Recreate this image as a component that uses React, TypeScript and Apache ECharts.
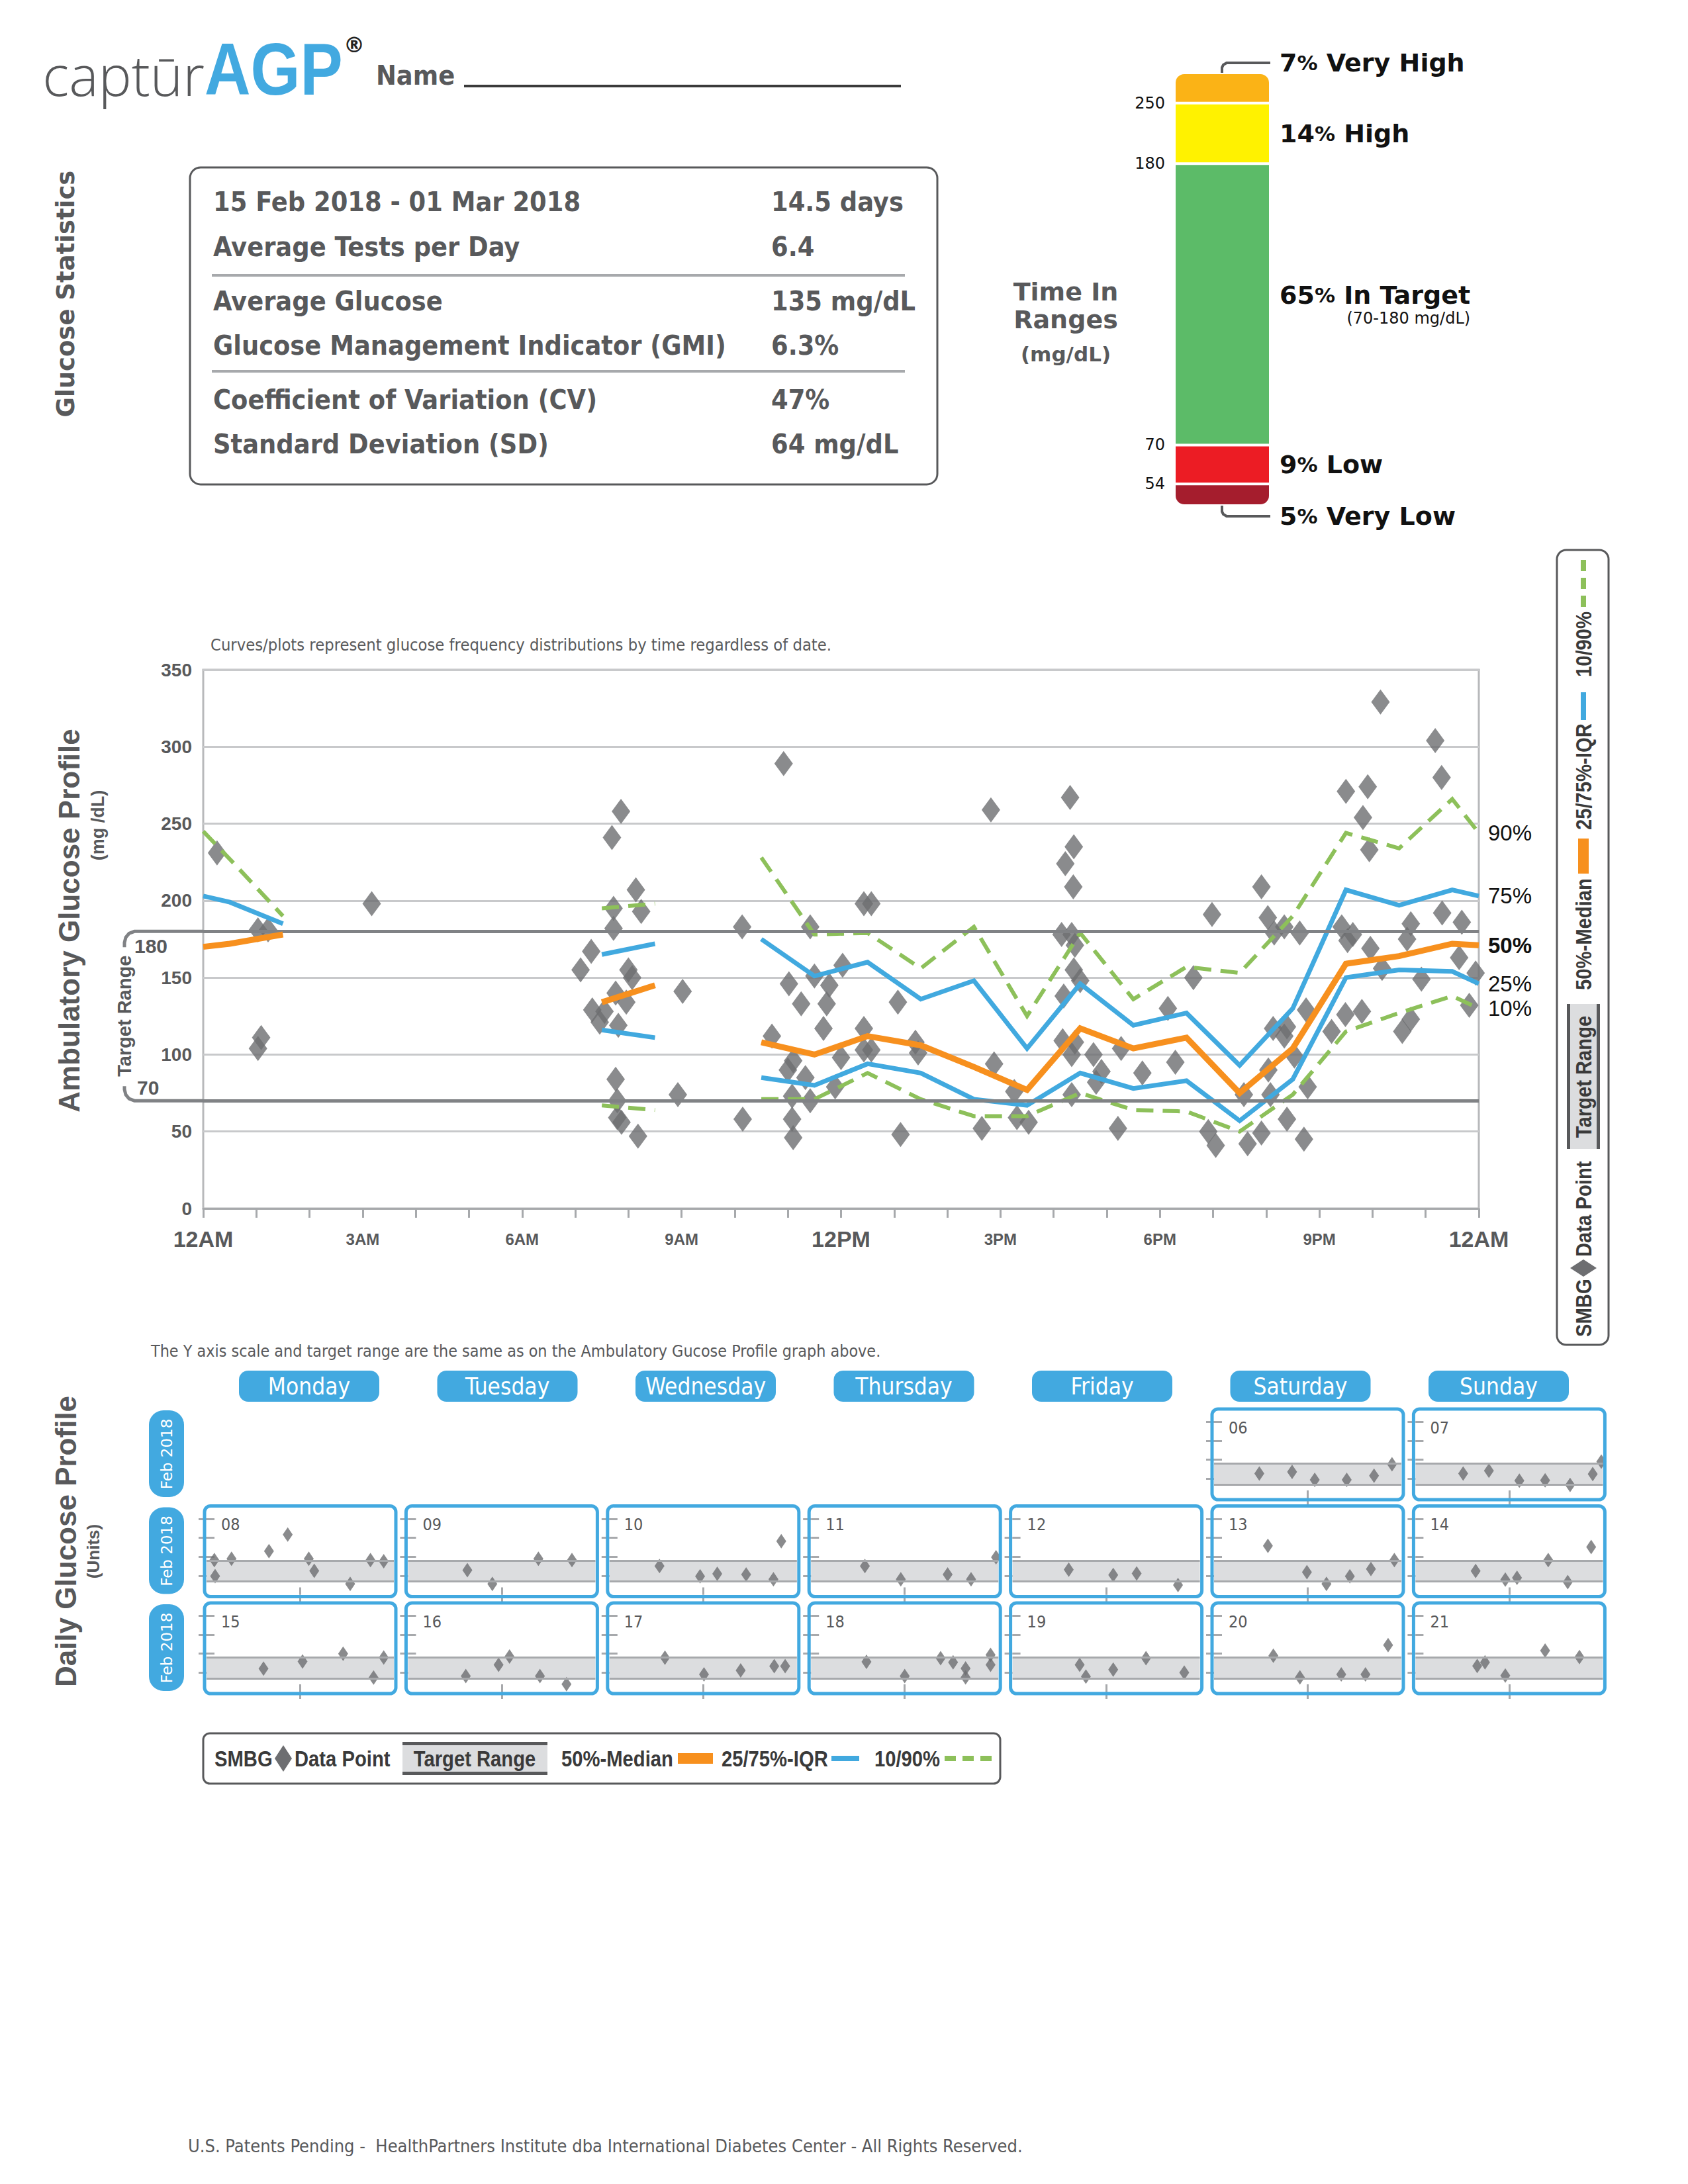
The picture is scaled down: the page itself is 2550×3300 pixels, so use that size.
import { useEffect, useRef } from 'react';
import * as echarts from 'echarts';

// ---------------- DATA ----------------
const statLabels = [
  '15 Feb 2018 - 01 Mar 2018',
  'Average Tests per Day',
  'Average Glucose',
  'Glucose Management Indicator (GMI)',
  'Coefficient of Variation (CV)',
  'Standard Deviation (SD)',
];
const statValues = ['14.5 days', '6.4', '135 mg/dL', '6.3%', '47%', '64 mg/dL'];

const tirNames = ['Very Low', 'Low', 'In Target', 'High', 'Very High'];
const tirPercents = [5, 9, 65, 14, 7];
const tirThresholds = [54, 70, 180, 250];
const tirTargetNote = '(70-180 mg/dL)';

const agpHours = [0, 0.5, 1.5, 4, 7.5, 8.5, 9.5, 10.5, 11.5, 12.5, 13.5, 14.5, 15.5, 16.5, 17.5, 18.5, 19.5, 20.5, 21.5, 22.5, 23.5, 24];
const p10 = [null, null, null, null, 67, 64, null, 71, 71, 88, 71, 60, 60, 75, 64, 63, 50, 74, 115, 127, 138, 130];
const p25 = [null, null, null, null, 116, 111, null, 85, 80, 94, 88, 71, 67, 88, 78, 83, 57, 84, 150, 155, 154, 146];
const p50 = [170, 172, 178, null, 134, 145, null, 108, 100, 112, 106, 92, 77, 117, 104, 111, 75, 104, 159, 164, 172, 171];
const p75 = [203, 199, 185, null, 165, 172, null, 175, 151, 160, 136, 148, 104, 146, 119, 127, 93, 130, 207, 197, 207, 203];
const p90 = [245, 227, 190, null, 195, 198, null, 228, 178, 179, 156, 183, 125, 179, 136, 157, 153, 190, 244, 234, 266, 244];

const smbgHours = [
  0.26, 1.03, 1.03, 1.09, 1.22, 3.17, 7.1, 7.3, 7.32, 7.46, 7.55, 7.69, 7.72, 7.72, 7.76, 7.76, 7.79, 7.79, 7.81, 7.86,
  7.87, 7.96, 8.0, 8.07, 8.14, 8.18, 8.24, 8.93, 9.02, 10.14, 10.15, 10.7, 10.92, 11.0, 11.02, 11.08, 11.08, 11.1, 11.1,
  11.25, 11.33, 11.42, 11.42, 11.5, 11.67, 11.73, 11.78, 11.89, 12.0, 12.03, 12.43, 12.43, 12.43, 12.57, 12.57, 13.07,
  13.12, 13.4, 13.45, 14.65, 14.82, 14.88, 15.26, 15.31, 15.53, 16.15, 16.17, 16.19, 16.22, 16.31, 16.34, 16.34, 16.34,
  16.37, 16.38, 16.38, 16.4, 16.4, 16.5, 16.75, 16.8, 16.9, 17.21, 17.27, 17.67, 18.15, 18.29, 18.63, 18.91, 18.98,
  19.05, 19.58, 19.65, 19.91, 19.91, 20.03, 20.04, 20.08, 20.13, 20.15, 20.34, 20.34, 20.39, 20.39, 20.53, 20.63, 20.71,
  20.75, 20.78, 21.23, 21.42, 21.49, 21.5, 21.53, 21.63, 21.8, 21.82, 21.91, 21.94, 21.96, 22.15, 22.18, 22.56, 22.65,
  22.72, 22.72, 22.92, 23.18, 23.3, 23.31, 23.63, 23.68, 23.82, 23.94,
];
const smbgValues = [
  231, 181, 104, 111, 181, 198, 155, 167, 129, 121, 128, 241, 195, 182, 140, 84, 70, 59, 119, 258,
  56, 134, 155, 150, 207, 47, 193, 74, 141, 183, 58, 112, 289, 90, 146, 73, 58, 96, 46,
  133, 85, 183, 70, 151, 117, 133, 145, 79, 98, 158, 198, 117, 103, 198, 103, 134,
  48, 108, 101, 52, 259, 94, 76, 59, 56, 178, 109, 138, 224, 267, 178, 100, 74,
  209, 235, 155, 171, 108, 148, 100, 82, 89, 52, 104, 88, 130, 95, 150, 50, 191,
  41, 74, 42, 209, 49, 189, 90, 74, 117, 179, 183, 112, 118, 58, 99, 179, 45,
  129, 79, 115, 183, 126, 271, 174, 178, 128, 254, 274, 233, 169, 329, 156, 115, 175,
  185, 123, 149, 304, 280, 192, 163, 186, 132, 153,
];

const hourLabels: Record<number, string> = { 0: '12AM', 3: '3AM', 6: '6AM', 9: '9AM', 12: '12PM', 15: '3PM', 18: '6PM', 21: '9PM', 24: '12AM' };
const percentileNames = ['10%', '25%', '50%', '75%', '90%'];
const targetRange = [70, 180];

const weekdays = ['Monday', 'Tuesday', 'Wednesday', 'Thursday', 'Friday', 'Saturday', 'Sunday'];
const monthLabel = 'Feb 2018';
const day06 = [[5.8, 127], [10.0, 136], [12.9, 94], [17.0, 94], [20.5, 116], [22.8, 176]];
const day07 = [[6.1, 127], [9.4, 142], [13.3, 90], [16.6, 92], [19.8, 67], [22.7, 125], [23.8, 190]];
const day08 = [[1.0, 182], [1.1, 98], [3.2, 189], [8.0, 229], [10.4, 317], [13.1, 189], [13.8, 126], [18.4, 57], [21.0, 182], [22.7, 176]];
const day09 = [[7.6, 129], [10.8, 57], [16.7, 189], [21.0, 182]];
const day10 = [[6.4, 151], [11.6, 97], [13.8, 110], [17.5, 106], [21.0, 81], [22.0, 282]];
const day11 = [[6.9, 151], [11.5, 81], [17.5, 106], [20.5, 81], [23.7, 197]];
const day12 = [[7.2, 132], [12.9, 104], [15.9, 112], [21.2, 51]];
const day13 = [[6.9, 257], [11.9, 119], [14.4, 57], [17.4, 97], [20.1, 135], [23.1, 182]];
const day14 = [[7.7, 125], [11.5, 79], [13.0, 89], [17.0, 182], [19.5, 66], [22.5, 251]];
const day15 = [[7.3, 121], [12.3, 159], [17.5, 200], [21.4, 74], [22.7, 180]];
const day16 = [[7.4, 82], [11.6, 141], [13.0, 185], [16.9, 82], [20.3, 39]];
const day17 = [[7.1, 179], [12.1, 91], [16.8, 112], [21.1, 134], [22.5, 134]];
const day18 = [[7.1, 157], [12.0, 82], [16.6, 176], [18.2, 154], [19.8, 122], [19.8, 75], [23.0, 194], [23.0, 141]];
const day19 = [[8.6, 141], [9.4, 79], [12.9, 116], [17.1, 176], [22.0, 100]];
const day20 = [[7.6, 189], [11.0, 75], [16.3, 91], [19.4, 91], [22.3, 245]];
const day21 = [[7.9, 135], [8.9, 154], [11.5, 85], [16.6, 216], [21.0, 182]];

const dailyCells = [
  { date: '06', row: 0, col: 5, points: day06 },
  { date: '07', row: 0, col: 6, points: day07 },
  { date: '08', row: 1, col: 0, points: day08 },
  { date: '09', row: 1, col: 1, points: day09 },
  { date: '10', row: 1, col: 2, points: day10 },
  { date: '11', row: 1, col: 3, points: day11 },
  { date: '12', row: 1, col: 4, points: day12 },
  { date: '13', row: 1, col: 5, points: day13 },
  { date: '14', row: 1, col: 6, points: day14 },
  { date: '15', row: 2, col: 0, points: day15 },
  { date: '16', row: 2, col: 1, points: day16 },
  { date: '17', row: 2, col: 2, points: day17 },
  { date: '18', row: 2, col: 3, points: day18 },
  { date: '19', row: 2, col: 4, points: day19 },
  { date: '20', row: 2, col: 5, points: day20 },
  { date: '21', row: 2, col: 6, points: day21 },
];

// ---------------- STYLE ----------------
const F_DJ = "'DejaVu Sans', sans-serif";
const F_DJC = "'DejaVu Sans Condensed', 'DejaVu Sans', sans-serif";
const F_LIB = "'Liberation Sans', Arial, sans-serif";
const C = {
  gray: '#58595b', blue: '#42a9e0', orange: '#f7901e', green: '#8dc05a', lineBlue: '#41a9df',
  dia: '#6d6e71', band: '#dcdddf', bandLine: '#a7a9ac', target: '#808285',
};
const tirColors = ['#a51d2d', '#ec1c24', '#5cbb68', '#fff200', '#fbb316'];

function T(text: string, x: number, y: number, o: any = {}) {
  const align = o.align || 'left';
  const va = o.va || 'middle';
  return {
    type: 'text', x, y, rotation: o.rot || 0, scaleX: o.sx || 1, z: o.z ?? 5, silent: true,
    style: {
      text, fontSize: o.size || 24, fontFamily: o.font || F_DJ, fontWeight: o.weight || 'normal',
      fill: o.color || C.gray, align, verticalAlign: va, textAlign: align, textVerticalAlign: va,
      rich: o.rich,
    },
  };
}

function legendEls() {
  const f = { size: 34, font: F_LIB, weight: 'bold', color: '#3a3a3a', sx: 0.86 };
  return [
    T('SMBG', 0, 0, f),
    { type: 'polygon', silent: true, shape: { points: [[104, -20], [117, 0], [104, 20], [91, 0]] }, style: { fill: C.dia } },
    T('Data Point', 121, 0, f),
    { type: 'rect', silent: true, shape: { x: 284, y: -25, width: 219, height: 50 }, style: { fill: C.band } },
    { type: 'rect', silent: true, shape: { x: 284, y: -25, width: 219, height: 5 }, style: { fill: C.gray } },
    { type: 'rect', silent: true, shape: { x: 284, y: 20, width: 219, height: 5 }, style: { fill: C.gray } },
    T('Target Range', 393, 0, { ...f, align: 'center' }),
    T('50%-Median', 524, 0, f),
    { type: 'rect', silent: true, shape: { x: 700, y: -8, width: 53, height: 16 }, style: { fill: C.orange } },
    T('25/75%-IQR', 766, 0, f),
    { type: 'rect', silent: true, shape: { x: 932, y: -4, width: 42, height: 8 }, style: { fill: C.lineBlue } },
    T('10/90%', 997, 0, f),
    ...[1103, 1130, 1157].map((x) => ({ type: 'rect', silent: true, shape: { x, y: -4, width: 17, height: 8 }, style: { fill: C.green } })),
  ];
}

// layout constants
const CELL_X0 = 309, CELL_STEP_X = 304.4, CELL_W = 289;
const CELL_Y0 = 2129, CELL_STEP_Y = 146.5, CELL_H = 137;
const HEAD_X0 = 467, HEAD_STEP = 299.5;

function buildOption() {
  const grids: any[] = [];
  const xAxes: any[] = [];
  const yAxes: any[] = [];
  const series: any[] = [];

  // ---- AGP ----
  grids.push({ left: 307, top: 1012, width: 1927, height: 814, show: true, borderColor: '#b8b9bb', borderWidth: 3 });
  const lblBase = { fontWeight: 'bold', fontFamily: F_LIB, color: C.gray };
  xAxes.push({
    gridIndex: 0, type: 'value', min: 0, max: 24, interval: 1,
    axisLine: { show: true, lineStyle: { color: '#a7a9ac', width: 3 } },
    axisTick: { show: true, length: 14, lineStyle: { color: '#a7a9ac', width: 3 } },
    splitLine: { show: false },
    axisLabel: {
      margin: 26,
      formatter: (v: number) => {
        const l = hourLabels[v];
        if (!l) return '';
        return (v % 12 === 0 ? '{big|' : '{sm|') + l + '}';
      },
      rich: { big: { ...lblBase, fontSize: 34, lineHeight: 40 }, sm: { ...lblBase, fontSize: 24, lineHeight: 40 } },
    },
  });
  yAxes.push({
    gridIndex: 0, type: 'value', min: 0, max: 350, interval: 50,
    axisLine: { show: false }, axisTick: { show: false },
    splitLine: { show: true, lineStyle: { color: '#c8c9cb', width: 3 } },
    axisLabel: { ...lblBase, fontSize: 28, margin: 17 },
  });
  series.push({
    type: 'scatter', xAxisIndex: 0, yAxisIndex: 0, silent: true, z: 2,
    data: smbgHours.map((h, i) => [h, smbgValues[i]]),
    symbol: 'diamond', symbolSize: [28, 38], itemStyle: { color: C.dia },
  });
  series.push({
    type: 'line', xAxisIndex: 0, yAxisIndex: 0, data: [], z: 3, silent: true,
    markLine: {
      silent: true, symbol: 'none', label: { show: false },
      lineStyle: { color: C.target, width: 5, type: 'solid' },
      data: targetRange.map((v) => ({ yAxis: v })),
    },
  });
  const pSets = [p10, p25, p50, p75, p90];
  const pStyle = [
    { color: C.green, width: 6, type: [26, 14] },
    { color: C.lineBlue, width: 7, type: 'solid' },
    { color: C.orange, width: 9, type: 'solid' },
    { color: C.lineBlue, width: 7, type: 'solid' },
    { color: C.green, width: 6, type: [26, 14] },
  ];
  pSets.forEach((arr, k) => {
    series.push({
      type: 'line', xAxisIndex: 0, yAxisIndex: 0, silent: true, z: 4 + (k === 2 ? 1 : 0),
      data: agpHours.map((h, i) => [h, arr[i]]),
      symbol: 'none', connectNulls: false,
      lineStyle: { ...pStyle[k], cap: 'butt', join: 'miter' },
      itemStyle: { color: pStyle[k].color },
      endLabel: {
        show: true, formatter: percentileNames[k], distance: 14,
        fontSize: 33, fontFamily: F_LIB, color: '#111', fontWeight: k === 2 ? 'bold' : 'normal',
      },
    });
  });

  // ---- Time in ranges bar ----
  const cum: number[] = [];
  tirPercents.reduce((s, v, i) => { const n = s + v; if (i < tirPercents.length - 1) cum.push(n); return n; }, 0);
  grids.push({ left: 1774, top: 110, width: 145, height: 654 });
  xAxes.push({ gridIndex: 1, type: 'category', data: ['TIR'], show: false });
  yAxes.push({
    gridIndex: 1, type: 'value', min: 0, max: 100,
    axisLine: { show: false }, axisTick: { show: false }, splitLine: { show: false },
    axisLabel: {
      show: true, customValues: cum, margin: 14, fontSize: 24, fontFamily: F_DJ, color: '#111',
      formatter: (v: number) => { const i = cum.indexOf(v); return i >= 0 ? String(tirThresholds[i]) : ''; },
    },
  });
  const richTir = {
    n: { fontSize: 38, fontWeight: 'bold', fontFamily: F_DJ, color: '#111' },
    p: { fontSize: 31, fontWeight: 'bold', fontFamily: F_DJ, color: '#111' },
    s: { fontSize: 24, fontFamily: F_DJ, color: '#111', align: 'right', padding: [4, 0, 0, 0] },
  };
  tirPercents.forEach((pct, i) => {
    const last = i === tirPercents.length - 1;
    const first = i === 0;
    let fmt = `{n|${pct}}{p|%}{n| ${tirNames[i]}}`;
    if (tirNames[i] === 'In Target') fmt += `\n{s|${tirTargetNote}}`;
    series.push({
      type: 'bar', xAxisIndex: 1, yAxisIndex: 1, stack: 'tir', barWidth: '100%', silent: true,
      data: [pct],
      itemStyle: {
        color: tirColors[i], borderColor: '#ffffff', borderWidth: 2,
        borderRadius: last ? [14, 14, 0, 0] : first ? [0, 0, 14, 14] : 0,
      },
      label: {
        show: true, position: 'right', distance: 14,
        offset: last ? [0, -38] : first ? [0, 32] : [0, 0],
        formatter: fmt, rich: richTir,
      },
    });
  });

  // ---- Daily cells ----
  dailyCells.forEach((c, k) => {
    const g = 2 + k;
    const cx = CELL_X0 + c.col * CELL_STEP_X;
    const cy = CELL_Y0 + c.row * CELL_STEP_Y;
    grids.push({ left: cx + 3, top: cy + 5, width: CELL_W - 6, height: 129 });
    const tick = { show: true, inside: true, lineStyle: { color: C.bandLine, width: 3 } };
    const xi = xAxes.length;
    ['bottom', 'top'].forEach((pos) => {
      xAxes.push({
        gridIndex: g, type: 'value', min: 0, max: 24, interval: 12, position: pos,
        axisLine: { show: false }, axisLabel: { show: false }, splitLine: { show: false },
        axisTick: { ...tick, length: 11, customValues: [12] },
      });
    });
    const yi = yAxes.length;
    ['left', 'right'].forEach((pos) => {
      yAxes.push({
        gridIndex: g, type: 'value', min: 0, max: 450, interval: 100, position: pos,
        axisLine: { show: false }, axisLabel: { show: false }, splitLine: { show: false },
        axisTick: { ...tick, length: 12, customValues: [100, 200, 300, 400] },
      });
    });
    series.push({
      type: 'line', xAxisIndex: xi, yAxisIndex: yi, data: [], z: 1, silent: true,
      markArea: { silent: true, itemStyle: { color: C.band }, data: [[{ yAxis: targetRange[0] }, { yAxis: targetRange[1] }]] },
      markLine: {
        silent: true, symbol: 'none', label: { show: false },
        lineStyle: { color: C.bandLine, width: 3, type: 'solid' },
        data: targetRange.map((v) => ({ yAxis: v })),
      },
    });
    series.push({
      type: 'scatter', xAxisIndex: xi, yAxisIndex: yi, data: c.points, z: 3, silent: true,
      symbol: 'diamond', symbolSize: [15, 22], itemStyle: { color: C.dia },
    });
  });

  return { animation: false, backgroundColor: '#ffffff', grid: grids, xAxis: xAxes, yAxis: yAxes, series };
}

function buildGraphics(chart: any) {
  const els: any[] = [];
  const R = Math.PI / 2;
  // logo + name
  els.push(T('captūr', 309, 112, { align: 'right', size: 84, font: "'Open Sans', 'Lato', sans-serif", weight: 300, color: C.gray }));
  els.push(T('AGP', 309, 104, { size: 112, font: F_LIB, weight: 'bold', color: C.blue, sx: 0.86 }));
  els.push(T('®', 535, 68, { align: 'center', size: 32, weight: 'bold', color: '#222' }));
  els.push(T('Name', 568, 114, { size: 41, font: F_DJC, weight: 'bold' }));
  els.push({ type: 'line', silent: true, shape: { x1: 701, y1: 130, x2: 1361, y2: 130 }, style: { stroke: '#3a3a3a', lineWidth: 4 } });

  // glucose statistics
  els.push(T('Glucose Statistics', 99, 444, { rot: R, align: 'center', size: 37, weight: 'bold' }));
  els.push({ type: 'rect', silent: true, shape: { x: 287, y: 253, width: 1129, height: 479, r: 16 }, style: { fill: 'none', stroke: C.gray, lineWidth: 3 } });
  const rowY = [305, 373, 455, 522, 604, 671];
  statLabels.forEach((s, i) => {
    els.push(T(s, 322, rowY[i], { size: 41, font: F_DJC, weight: 'bold' }));
    els.push(T(statValues[i], 1165, rowY[i], { size: 41, font: F_DJC, weight: 'bold' }));
  });
  [416, 561].forEach((y) => els.push({ type: 'line', silent: true, shape: { x1: 320, y1: y, x2: 1367, y2: y }, style: { stroke: '#a7a9ac', lineWidth: 4 } }));

  // time in ranges
  els.push(T('Time In', 1610, 441, { align: 'center', size: 38, weight: 'bold' }));
  els.push(T('Ranges', 1610, 483, { align: 'center', size: 38, weight: 'bold' }));
  els.push(T('(mg/dL)', 1610, 535, { align: 'center', size: 31, weight: 'bold' }));
  els.push({ type: 'polyline', silent: true, shape: { points: [[1846, 110], [1846, 102], [1848, 98], [1853, 95], [1919, 95]] }, style: { stroke: C.gray, lineWidth: 4, fill: 'none' } });
  els.push({ type: 'polyline', silent: true, shape: { points: [[1846, 764], [1846, 773], [1848, 777], [1853, 780], [1919, 780]] }, style: { stroke: C.gray, lineWidth: 4, fill: 'none' } });

  // AGP annotations
  els.push(T('Curves/plots represent glucose frequency distributions by time regardless of date.', 318, 974, { size: 25.3, font: F_DJC }));
  els.push(T('Ambulatory Glucose Profile', 104, 1391, { rot: R, align: 'center', size: 44, font: F_LIB, weight: 'bold' }));
  els.push(T('(mg /dL)', 148, 1247, { rot: R, align: 'center', size: 27, font: F_LIB, weight: 'bold' }));
  const left = chart.convertToPixel({ gridIndex: 0 }, [0, targetRange[1]]);
  const yHi = left[1];
  const yLo = chart.convertToPixel({ gridIndex: 0 }, [0, targetRange[0]])[1];
  const xL = left[0];
  els.push({ type: 'polyline', silent: true, z: 6, shape: { points: [[xL, yHi], [203, yHi], [195, yHi + 3], [190, yHi + 9], [188, yHi + 17], [188, yHi + 24]] }, style: { stroke: C.target, lineWidth: 5, fill: 'none' } });
  els.push({ type: 'polyline', silent: true, z: 6, shape: { points: [[188, yLo - 22], [188, yLo - 17], [190, yLo - 9], [195, yLo - 3], [203, yLo], [xL, yLo]] }, style: { stroke: C.target, lineWidth: 5, fill: 'none' } });
  els.push(T(String(targetRange[1]), 203, yHi + 22, { size: 30, font: F_LIB, weight: 'bold' }));
  els.push(T(String(targetRange[0]), 207, yLo - 20, { size: 30, font: F_LIB, weight: 'bold' }));
  els.push(T('Target Range', 188, (yHi + yLo) / 2, { rot: R, align: 'center', size: 29, font: F_LIB, weight: 'bold' }));

  // right vertical legend
  els.push({ type: 'rect', silent: true, shape: { x: 2352, y: 831, width: 78, height: 1201, r: 14 }, style: { fill: 'none', stroke: C.gray, lineWidth: 3 } });
  els.push({ type: 'group', x: 2392, y: 2020, rotation: R, children: legendEls() });

  // daily profile
  els.push(T('The Y axis scale and target range are the same as on the Ambulatory Gucose Profile graph above.', 228, 2041, { size: 24.9, font: F_DJC }));
  els.push(T('Daily Glucose Profile', 99, 2329, { rot: R, align: 'center', size: 44, font: F_LIB, weight: 'bold' }));
  els.push(T('(Units)', 141, 2344, { rot: R, align: 'center', size: 26, font: F_LIB, weight: 'bold' }));
  weekdays.forEach((d, i) => {
    const cx = HEAD_X0 + i * HEAD_STEP;
    els.push({ type: 'rect', silent: true, shape: { x: cx - 106, y: 2071, width: 212, height: 47, r: 14 }, style: { fill: C.blue } });
    els.push(T(d, cx, 2095, { align: 'center', size: 35, font: F_DJC, color: '#ffffff' }));
  });
  [0, 1, 2].forEach((r) => {
    const y = CELL_Y0 + r * CELL_STEP_Y;
    els.push({ type: 'rect', silent: true, shape: { x: 225, y: y + 2, width: 53, height: 131, r: 22 }, style: { fill: C.blue } });
    els.push(T(monthLabel, 252, y + 68, { rot: R, align: 'center', size: 23, font: F_DJ, color: '#ffffff' }));
  });
  dailyCells.forEach((c) => {
    const cx = CELL_X0 + c.col * CELL_STEP_X;
    const cy = CELL_Y0 + c.row * CELL_STEP_Y;
    els.push({ type: 'rect', silent: true, z: 8, shape: { x: cx, y: cy, width: CELL_W, height: CELL_H, r: 9 }, style: { fill: 'none', stroke: C.blue, lineWidth: 5 } });
    els.push(T(c.date, cx + 25, cy + 28, { size: 25, font: F_DJC }));
  });

  // bottom legend
  els.push({ type: 'rect', silent: true, shape: { x: 307, y: 2619, width: 1204, height: 76, r: 10 }, style: { fill: 'none', stroke: C.gray, lineWidth: 3 } });
  els.push({ type: 'group', x: 324, y: 2657, children: legendEls() });

  // footer
  els.push(T('U.S. Patents Pending -  HealthPartners Institute dba International Diabetes Center - All Rights Reserved.', 284, 3242, { size: 27, font: F_DJC }));
  return els;
}

export default function App() {
  const ref = useRef<HTMLDivElement>(null);
  useEffect(() => {
    document.body.style.margin = '0';
    document.body.style.overflow = 'hidden';
    if (!ref.current) return;
    const chart = echarts.init(ref.current, undefined, { renderer: 'svg' });
    chart.setOption(buildOption() as any);
    chart.setOption({ graphic: { elements: buildGraphics(chart) } } as any);
    return () => chart.dispose();
  }, []);
  return <div ref={ref} style={{ width: 2550, height: 3300, background: '#fff' }} />;
}
